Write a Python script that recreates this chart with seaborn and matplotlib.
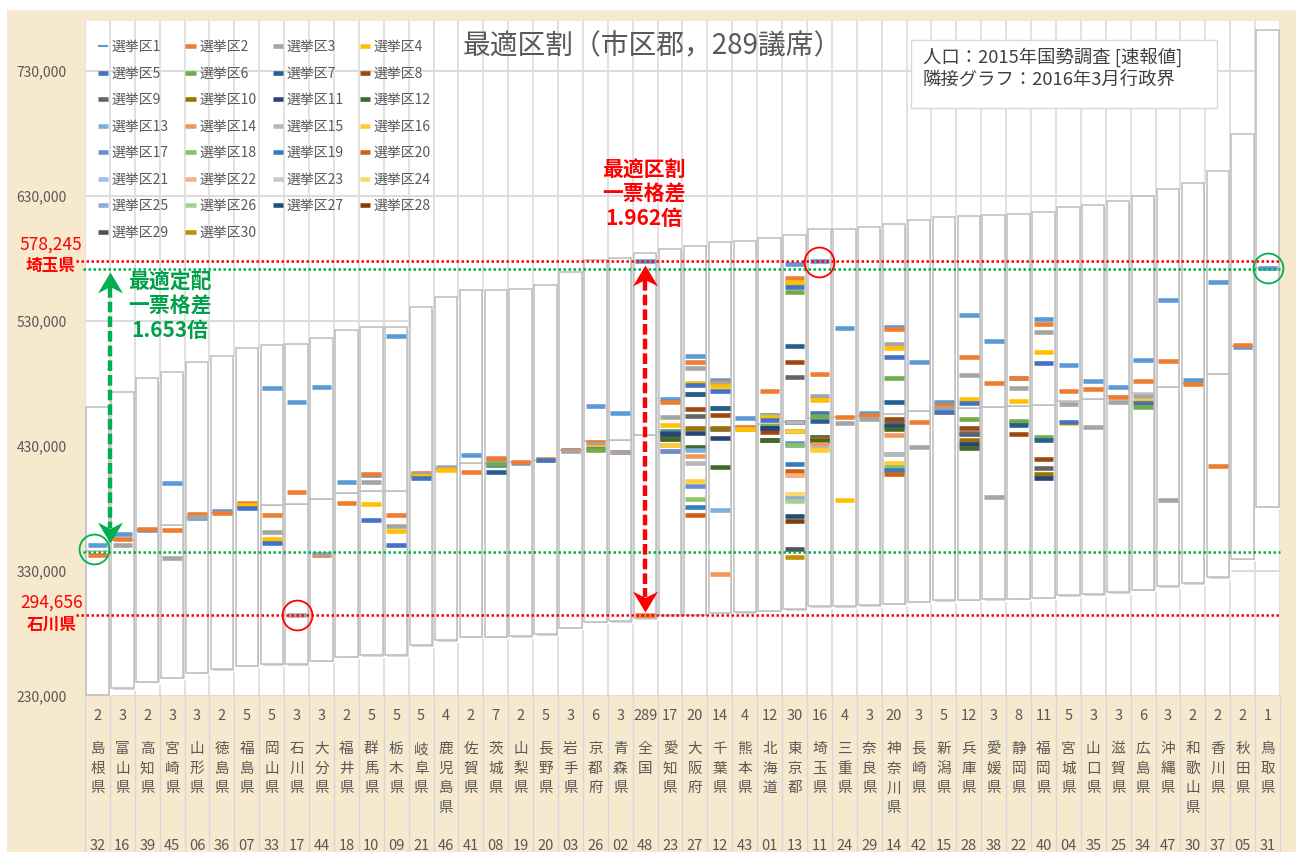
import numpy as np
import pandas as pd
import matplotlib
matplotlib.use('Agg')
import matplotlib.pyplot as plt
import matplotlib.transforms as mtransforms
from matplotlib.lines import Line2D
from matplotlib.patches import Rectangle
from matplotlib.path import Path
import seaborn as sns

import warnings
warnings.filterwarnings('ignore')

# ---- data (populations in thousands) ----
prefs = ['島根県', '富山県', '高知県', '宮崎県', '山形県', '徳島県', '福島県', '岡山県',
         '石川県', '大分県', '福井県', '群馬県', '栃木県', '岐阜県', '鹿児島県', '佐賀県',
         '茨城県', '山梨県', '長野県', '岩手県', '京都府', '青森県', '全国', '愛知県',
         '大阪府', '千葉県', '熊本県', '北海道', '東京都', '埼玉県', '三重県', '奈良県',
         '神奈川県', '長崎県', '新潟県', '兵庫県', '愛媛県', '静岡県', '福岡県', '宮城県',
         '山口県', '滋賀県', '広島県', '沖縄県', '和歌山県', '香川県', '秋田県', '鳥取県']
seats = [2, 3, 2, 3, 3, 2, 5, 5, 3, 3, 2, 5, 5, 5, 4, 2, 7, 2, 5, 3, 6, 3, 289, 17,
         20, 14, 4, 12, 30, 16, 4, 3, 20, 3, 5, 12, 3, 8, 11, 5, 3, 3, 6, 3, 2, 2, 2, 1]
codes = ['32', '16', '39', '45', '06', '36', '07', '33', '17', '44', '18', '10', '09',
         '21', '46', '41', '08', '19', '20', '03', '26', '02', '48', '23', '27', '12',
         '43', '01', '13', '11', '24', '29', '14', '42', '15', '28', '38', '22', '40',
         '04', '35', '25', '34', '47', '30', '37', '05', '31']
box_low = [230.8, 236.2, 241.4, 244.6, 248.6, 251.4, 254.2, 255.4, 255.6, 258.2, 261.4,
           262.5, 262.8, 270.5, 274.6, 277.4, 277.6, 278.0, 279.4, 284.6, 289.3, 290.0,
           292.4, 294.5, 295.0, 296.5, 297.2, 298.4, 299.6, 301.8, 302.0, 302.8, 303.7,
           305.4, 306.8, 307.0, 307.5, 308.0, 308.8, 310.6, 311.5, 313.2, 315.2, 318.0,
           320.4, 325.0, 340.0, 381.4]
box_high = [461.2, 473.0, 484.2, 489.4, 497.4, 502.2, 508.6, 511.0, 511.6, 516.6, 522.8,
            525.0, 525.6, 541.0, 549.2, 554.8, 555.0, 556.0, 558.8, 569.2, 578.6, 580.4,
            584.8, 588.0, 590.0, 593.0, 594.4, 596.8, 599.2, 603.6, 604.0, 605.6, 607.4,
            610.8, 613.6, 614.0, 615.0, 616.0, 617.6, 621.2, 623.0, 626.4, 630.4, 636.0,
            640.8, 650.0, 680.0, 762.8]
districts = [
    [350.6, 342.8],
    [359.6, 355.4, 350.6],
    [362.8, 363.4],
    [400.1, 362.8, 340.2],
    [372.5, 375.3, 373.0],
    [378.2, 376.5],
    [383.5, 384.6, 381.5, 383.2, 380.5],
    [476.4, 374.6, 361.0, 355.4, 352.4],
    [465.2, 393.0, 294.656],
    [477.5, 342.8, 343.4],
    [401.5, 384.7],
    [406.8, 407.4, 401.0, 383.6, 370.8],
    [518.0, 374.6, 366.0, 362.0, 351.0],
    [407.0, 408.5, 407.6, 406.2, 404.2],
    [412.0, 412.8, 413.6, 410.8],
    [423.0, 409.2],
    [420.0, 420.1, 416.5, 415.8, 415.0, 415.3, 409.2],
    [416.8, 417.0],
    [419.2, 419.5, 418.8, 419.0, 419.1],
    [426.8, 426.8, 426.3],
    [462.0, 433.5, 431.9, 429.5, 428.0, 426.8],
    [456.1, 425.4, 425.2],
    [578.245, 294.656],
    [467.3, 465.0, 453.4, 446.6, 442.3, 441.5, 440.5, 437.0, 436.0, 437.8, 439.4, 435.6,
     430.6, 426.3, 430.9, 430.8, 426.0],
    [502.0, 497.0, 492.2, 480.7, 478.6, 471.5, 471.8, 459.4, 453.8, 444.2, 440.6, 429.2,
     427.0, 422.0, 416.4, 402.0, 398.0, 387.6, 381.2, 374.8],
    [483.0, 481.6, 480.8, 477.8, 474.0, 460.5, 460.7, 455.0, 444.0, 444.2, 436.2, 413.5,
     378.5, 327.6],
    [452.4, 445.4, 443.8, 443.6],
    [455.2, 474.0, 455.0, 453.4, 451.0, 445.8, 444.4, 441.4, 435.2, 434.9, 444.3, 434.8],
    [575.6, 564.7, 560.8, 560.9, 557.0, 553.0, 510.0, 497.4, 485.4, 449.6, 449.2, 442.2,
     430.6, 407.0, 449.4, 442.3, 432.5, 430.8, 415.8, 410.0, 388.5, 406.8, 391.6, 391.4,
     388.6, 386.0, 374.2, 370.2, 347.4, 341.0],
    [578.245, 487.5, 470.4, 466.8, 456.1, 453.8, 450.2, 437.2, 437.4, 435.3, 434.3, 434.0,
     427.5, 431.4, 428.5, 427.0],
    [524.8, 453.0, 448.2, 386.5],
    [456.1, 454.8, 451.8],
    [525.5, 523.8, 511.8, 508.1, 501.4, 484.6, 465.0, 451.3, 448.6, 445.8, 446.0, 443.4,
     423.8, 439.0, 423.6, 416.6, 411.0, 413.4, 410.8, 407.6],
    [497.2, 449.4, 429.2],
    [465.0, 462.8, 460.4, 457.6, 457.2],
    [534.6, 501.4, 487.0, 467.3, 464.6, 451.8, 440.0, 444.4, 440.2, 434.8, 431.4, 428.2],
    [514.2, 480.2, 389.4],
    [484.5, 484.2, 476.4, 465.8, 448.9, 449.8, 446.6, 439.8],
    [531.8, 527.6, 520.9, 505.2, 496.1, 437.4, 434.8, 419.8, 412.1, 407.6, 404.6],
    [495.0, 474.0, 463.3, 448.6, 449.0],
    [482.0, 475.4, 445.2],
    [477.0, 469.0, 465.4],
    [498.5, 482.2, 469.8, 466.0, 464.2, 461.5],
    [546.8, 498.0, 386.5],
    [482.6, 479.6],
    [561.0, 414.0],
    [509.6, 510.5],
    [572.7],
]
max_pop = 578245
min_pop = 294656
opt_max = 571.5
opt_min = 345.5

colors = ['#5B9BD5', '#ED7D31', '#A5A5A5', '#FFC000', '#4472C4', '#70AD47',
          '#255E91', '#9E480E', '#636363', '#997300', '#264478', '#43682B',
          '#7CAFDD', '#F1975A', '#B7B7B7', '#FFCD33', '#698ED0', '#8CC168',
          '#327DC2', '#D26012', '#9DC3E6', '#F4B183', '#C9C9C9', '#FFD966',
          '#8FAADC', '#A9D18E', '#1F4E79', '#843C0C', '#525252', '#BF9000']

W, H = 1303, 852
def fx(px):
    return px / W
def fy(py):
    return 1 - py / H

sns.set_theme(style='white')
plt.rcParams['font.family'] = ['Noto Sans CJK JP', 'DejaVu Sans']
gray_txt = '#595959'

fig = plt.figure(figsize=(W / 100, H / 100), dpi=100, facecolor='white')
fig.add_artist(Rectangle((fx(7), 0), fx(1296) - fx(7), fy(10), transform=fig.transFigure,
                         facecolor='#f6e9cd', edgecolor='none', zorder=-5))
ax = fig.add_axes([fx(85), fy(696), fx(1280) - fx(85), fy(21) - fy(696)])
ax.set_facecolor('white')

x = np.arange(len(prefs))
low = np.array(box_low) * 1000
high = np.array(box_high) * 1000
mid = (low + high) / 2

# grid
yt = np.arange(230000, 730001, 100000)
for v in yt:
    ax.axhline(v, color='#d9d9d9', lw=1.3, zorder=1)
ax.vlines(np.arange(-0.5, 48, 1), 230000, 770000, color='#dcdcdc', lw=1.2, zorder=1)

# boxes (2/3 .. 4/3 of the mean, split at the mean)
ax.bar(x + 0.05, high - low, bottom=low - 1200, width=0.9, color='#d2d2d2', zorder=1.5)
ax.bar(x, mid - low, bottom=low, width=0.9, color='white', edgecolor='#bdbdbd',
       linewidth=1.1, zorder=2)
ax.bar(x, high - mid, bottom=mid, width=0.9, color='white', edgecolor='#bdbdbd',
       linewidth=1.1, zorder=2)

# district markers
rows = []
for i, vals in enumerate(districts):
    for k, v in enumerate(vals):
        rows.append({'pos': i, 'district': k + 1, 'pop': v * 1000})
df = pd.DataFrame(rows).sort_values(['district', 'pos'], kind='stable')
df['series'] = '選挙区' + df['district'].astype(str)
palette = {f'選挙区{k + 1}': c for k, c in enumerate(colors)}
sns.scatterplot(data=df, x='pos', y='pop', hue='series', palette=palette, marker='_',
                s=200, linewidth=3.3, legend=False, ax=ax, zorder=4)
pts = ax.collections[-1]
pts.set_edgecolors(pts.get_facecolors())

ax.set_xlim(-0.5, 47.5)
ax.set_ylim(230000, 770000)
ax.set_xticks([])
ax.set_yticks(yt)
ax.set_yticklabels([f'{v:,}' for v in yt])
ax.tick_params(axis='y', length=0, pad=13, labelsize=10, labelcolor=gray_txt)
ax.set_xlabel('')
ax.set_ylabel('')
for s in ax.spines.values():
    s.set_visible(False)

# reference lines
ax.plot([-0.85, 47.5], [max_pop] * 2, color='#ff0000', lw=1.8, ls=(0, (1, 1)),
        clip_on=False, zorder=5)
ax.plot([-0.85, 47.5], [min_pop] * 2, color='#ff0000', lw=1.8, ls=(0, (1, 1)),
        clip_on=False, zorder=5)
ax.plot([-0.6, 47.5], [opt_max * 1000] * 2, color='#00b050', lw=1.8, ls=(0, (1, 1)),
        clip_on=False, zorder=5)
ax.plot([-0.6, 47.5], [opt_min * 1000] * 2, color='#00b050', lw=1.8, ls=(0, (1, 1)),
        clip_on=False, zorder=5)

# double arrows
up = Path([(0, 0), (-0.6, -1), (0, -0.7), (0.6, -1), (0, 0)],
          [Path.MOVETO, Path.LINETO, Path.LINETO, Path.LINETO, Path.CLOSEPOLY])
down = Path([(0, 0), (-0.6, 1), (0, 0.7), (0.6, 1), (0, 0)],
            [Path.MOVETO, Path.LINETO, Path.LINETO, Path.LINETO, Path.CLOSEPOLY])

def double_arrow(xc, top, bot, col):
    ax.plot([xc, xc], [top - 12000, bot + 12000], color=col, lw=3.2,
            dashes=(2.4, 0.9), zorder=6, solid_capstyle='butt', dash_capstyle='butt')
    ax.plot([xc], [top], marker=up, ms=30, color=col, mew=0, zorder=7)
    ax.plot([xc], [bot], marker=down, ms=30, color=col, mew=0, zorder=7)

double_arrow(0.5, 569500, 352500, '#00b050')
double_arrow(22, 574500, 297500, '#ff0000')

# circles
ax.plot([8, 29], [294656, 577600], 'o', ms=21.5, mfc='none', mec='#ff0000', mew=1.3,
        zorder=7, clip_on=False)
ax.plot([-0.12, 47], [347600, 572400], 'o', ms=21.5, mfc='none', mec='#00b050', mew=1.3,
        zorder=7, clip_on=False)

# category table below the axis
trans = mtransforms.blended_transform_factory(ax.transData, fig.transFigure)
ax.vlines(np.arange(-0.5, 48, 1), fy(H), fy(696), transform=trans, color='#d3d8de',
          lw=1, clip_on=False)
for i in x:
    ax.text(i, fy(716), str(seats[i]), transform=trans, ha='center', va='center',
            fontsize=10.5, color=gray_txt)
    for j, ch in enumerate(prefs[i]):
        ax.text(i, fy(749 + 19.7 * j), ch, transform=trans, ha='center', va='center',
                fontsize=10.5, color=gray_txt)
    ax.text(i, fy(846), codes[i], transform=trans, ha='center', va='center',
            fontsize=10.5, color=gray_txt)

# side labels
fig.text(fx(51), fy(245), f'{max_pop:,}', ha='center', va='center', fontsize=12.5,
         color='#ff0000')
fig.text(fx(51), fy(266), '埼玉県', ha='center', va='center', fontsize=12,
         color='#ff0000', weight='bold')
fig.text(fx(52), fy(603), f'{min_pop:,}', ha='center', va='center', fontsize=12.5,
         color='#ff0000')
fig.text(fx(52), fy(625), '石川県', ha='center', va='center', fontsize=12,
         color='#ff0000', weight='bold')

fig.text(fx(170), fy(306), '最適定配\n一票格差\n1.653倍', ha='center', va='center',
         fontsize=15, color='#00a04a', weight='bold', linespacing=1.2)
fig.text(fx(644), fy(194), '最適区割\n一票格差\n1.962倍', ha='center', va='center',
         fontsize=15, color='#ff0000', weight='bold', linespacing=1.2)

# title and note box
fig.text(fx(652), fy(46), '最適区割（市区郡，289議席）', ha='center', va='center',
         fontsize=20, color=gray_txt)
fig.add_artist(Rectangle((fx(911), fy(108)), fx(1217) - fx(911), fy(40) - fy(108),
                         transform=fig.transFigure, facecolor='white',
                         edgecolor='#d9d9d9', lw=1, zorder=3))
fig.text(fx(923), fy(68), '人口：2015年国勢調査 [速報値]\n隣接グラフ：2016年3月行政界',
         ha='left', va='center', fontsize=13.2, color='#404040', linespacing=1.2,
         zorder=4)

# legend (Excel order: row by row)
order = [1, 5, 9, 13, 17, 21, 25, 29, 2, 6, 10, 14, 18, 22, 26, 30,
         3, 7, 11, 15, 19, 23, 27, 4, 8, 12, 16, 20, 24, 28]
handles = [Line2D([0], [0], color=colors[k - 1], lw=1.5 if k == 1 else 3.3,
                  solid_capstyle='butt') for k in order]
labels = [f'選挙区{k}' for k in order]
ax.legend(handles, labels, ncol=4, loc='upper left', bbox_to_anchor=(fx(98), fy(40)),
          bbox_transform=fig.transFigure, frameon=False, fontsize=10,
          labelcolor=gray_txt, handlelength=0.75, handletextpad=0.25,
          columnspacing=1.17, labelspacing=0.9, borderpad=0, borderaxespad=0)

fig.savefig('out.png', dpi=100, facecolor=fig.get_facecolor())
